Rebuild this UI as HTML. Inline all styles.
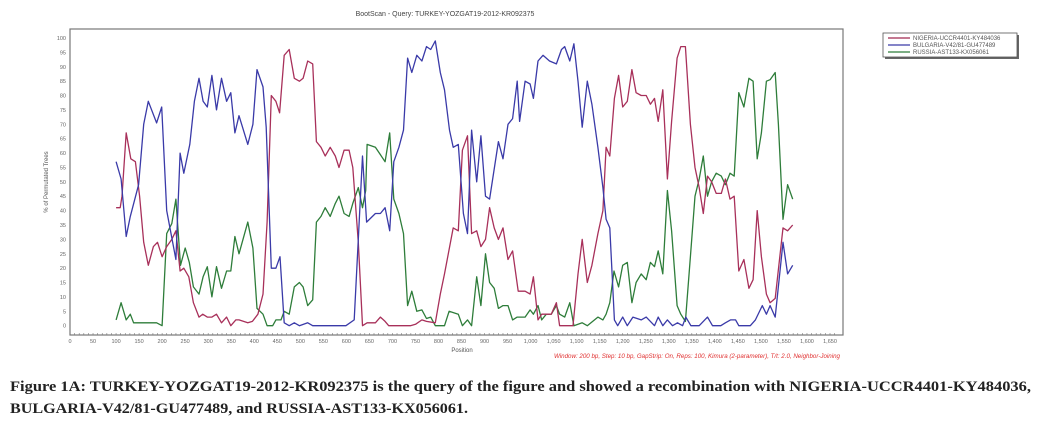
<!DOCTYPE html>
<html><head><meta charset="utf-8"><style>
html,body{margin:0;padding:0;background:#fff;}
svg{display:block;}
</style></head><body>
<svg id="chart" width="1061" height="431" viewBox="0 0 1061 431" xmlns="http://www.w3.org/2000/svg">
<text x="445" y="16" font-family="Liberation Sans, sans-serif" font-size="7" fill="#444" text-anchor="middle">BootScan - Query: TURKEY-YOZGAT19-2012-KR092375</text>
<rect x="70" y="29" width="773" height="306" fill="#fff" stroke="#777" stroke-width="1.2"/>
<g id="yticks"></g>
<g id="xticks"></g>
<text transform="translate(48,182) rotate(-90)" font-family="Liberation Sans, sans-serif" font-size="6" fill="#555" text-anchor="middle">% of Permutated Trees</text>
<text x="462" y="352" font-family="Liberation Sans, sans-serif" font-size="6" fill="#555" text-anchor="middle">Position</text>
<g id="series"></g>
<g>
<rect x="885" y="35" width="134" height="24" fill="#666"/>
<rect x="883" y="33" width="134" height="24" fill="#fff" stroke="#555" stroke-width="0.8"/>
<line x1="888" y1="38" x2="910" y2="38" stroke="#a0284f" stroke-width="1.2"/>
<text x="913" y="40" font-family="Liberation Sans, sans-serif" font-size="6" fill="#555">NIGERIA-UCCR4401-KY484036</text>
<line x1="888" y1="45" x2="910" y2="45" stroke="#3a3aa8" stroke-width="1.2"/>
<text x="913" y="47" font-family="Liberation Sans, sans-serif" font-size="6" fill="#555">BULGARIA-V42/81-GU477489</text>
<line x1="888" y1="52" x2="910" y2="52" stroke="#2e7d3a" stroke-width="1.2"/>
<text x="913" y="54" font-family="Liberation Sans, sans-serif" font-size="6" fill="#555">RUSSIA-AST133-KX056061</text>
</g>
<text x="840" y="358" font-family="Liberation Sans, sans-serif" font-size="6.2" font-style="italic" fill="#e03030" text-anchor="end">Window: 200 bp, Step: 10 bp, GapStrip: On, Reps: 100, Kimura (2-parameter), T/t: 2.0, Neighbor-Joining</text>
<text x="10" y="391" font-family="Liberation Serif, serif" font-size="14.5" font-weight="bold" fill="#222" textLength="1021" lengthAdjust="spacingAndGlyphs">Figure 1A: TURKEY-YOZGAT19-2012-KR092375 is the query of the figure and showed a recombination with NIGERIA-UCCR4401-KY484036,</text>
<text x="10" y="413" font-family="Liberation Serif, serif" font-size="14.5" font-weight="bold" fill="#222" textLength="458" lengthAdjust="spacingAndGlyphs">BULGARIA-V42/81-GU477489, and RUSSIA-AST133-KX056061.</text>
</svg>
<script>
const xTicks = [0,50,100,150,200,250,300,350,400,450,500,550,600,650,700,750,800,850,900,950,1000,1050,1100,1150,1200,1250,1300,1350,1400,1450,1500,1550,1600,1650];
const yTicks = [0,5,10,15,20,25,30,35,40,45,50,55,60,65,70,75,80,85,90,95,100];
const seriesNames = ["NIGERIA-UCCR4401-KY484036","BULGARIA-V42/81-GU477489","RUSSIA-AST133-KX056061"];
const redPos = [100,109,113,122,132,142,151,160,170,181,190,200,210,221,230,239,247,258,268,280,288,298,308,318,329,340,349,360,367,386,396,408,419,428,437,447,455,465,476,487,498,506,516,527,535,545,554,565,576,584,595,606,614,626,635,645,663,674,684,692,739,750,764,774,793,804,813,832,843,852,863,872,883,892,902,911,921,930,940,951,961,973,988,999,1006,1016,1024,1034,1045,1056,1063,1081,1092,1103,1112,1123,1133,1146,1157,1164,1172,1182,1191,1200,1210,1220,1229,1240,1251,1260,1269,1277,1287,1297,1306,1318,1326,1336,1347,1357,1366,1375,1384,1393,1403,1414,1423,1433,1442,1452,1463,1474,1483,1492,1501,1512,1520,1531,1548,1558,1569];
const redVal = [41,41,45,67,58,57,45,29,21,27.5,29,24,27.5,30,33,19,20,17,8,3,4,3,3,4,1,3,0,2,2,1,1.5,4,11,36,80,78,74,94,96,86,85,86,92,91,64,62,59,62,59,55,61,61,55,29,0,1,1,3,1.5,0,0,0.5,2,1.5,1,11,18,34,33,61,66,32,33,27.5,30,41,34,30,34,23,26,12,12,11,17,2,4,4,4,8,0,0,0,18,30,15,21,32,40,62,59,79,87,76,78,89,81,80,80,77,79,71,82,51,71,93,97,97,70,55,48,39,52,50,46,46,51,44,45,19,23,13,16,40,24,11,8,9.5,34,33,35];
const bluePos = [100,111,122,131,149,160,170,188,199,210,230,239,247,260,270,280,289,298,308,318,329,340,349,358,367,386,397,406,419,426,437,447,456,465,476,487,498,516,527,599,617,626,635,644,663,674,684,694,703,714,724,733,742,753,764,774,783,793,804,813,824,832,843,854,863,872,883,892,902,911,930,940,951,961,971,976,988,999,1006,1016,1027,1041,1056,1067,1074,1085,1094,1103,1112,1123,1133,1146,1157,1164,1172,1182,1189,1200,1210,1222,1240,1251,1269,1277,1287,1297,1308,1319,1330,1337,1348,1366,1384,1395,1413,1423,1434,1445,1452,1477,1488,1503,1512,1520,1531,1548,1558,1569];
const blueVal = [57,51,31,38,49,70,78,70.5,76,40,23,60,53,63,78,86,78,76,87,75,86,78,81,67,73,63,70,89,83,69,20,20,24,1,0,1,0,1,0,0,2,30,59,36,39,39,41,33,57,62,68,93,88,94,92,97,96,99,88,82,68,62,63,39,32,68,50,66,45,44,64,58,70,72,85,71,85,84,79,92,94,92,91,96,97,92,98,85,69,85,77,62,48,37,34,2,0,3,0,3,2,3,0,3,0,2,0,1,0,3,0,0,3,0,0,1,2,2,0,0,2,7,4,7,3,29,18,21];
const greenPos = [100,111,122,131,138,188,200,210,221,230,240,250,259,268,280,289,298,308,318,329,340,349,358,367,386,397,406,419,428,440,447,458,465,476,487,498,506,516,527,535,545,554,565,576,584,595,606,614,626,635,642,645,663,684,694,703,714,724,733,742,753,764,774,783,793,813,823,843,852,863,872,883,892,902,911,921,930,940,951,961,971,988,999,1006,1016,1024,1034,1045,1056,1063,1074,1085,1094,1112,1123,1146,1157,1164,1172,1181,1191,1200,1210,1220,1229,1240,1251,1260,1269,1277,1287,1297,1306,1318,1326,1336,1347,1357,1366,1375,1384,1393,1403,1414,1423,1433,1442,1452,1463,1474,1483,1492,1501,1512,1520,1531,1538,1548,1558,1569];
const greenVal = [2,8,2,4,1,1,0,32,35.5,44,21,27,22,13.5,11,17,20.5,10,20.5,13,19,19,31,25,36,27,6,4,0,0,2,2,5,4,13.5,15,13.5,7,9,36,38,41,38,42.5,45,39,38,42.5,48,41,47,63,62,57,67,44,39,32,7,12,5,5.5,2.5,3,0,0,5,4,0,2,0,17,7,25,15,13,6,7,7,2,3,3,5.5,4,7,2,4,4,7,4,3,8,0,1,0,3,2,4,8,19,13.5,21,22,8,15,18,16,22,20.5,26,18,47,33,7,4,1.5,24,45,51,59,45,50,53,52,49,53,52,81,76,86,85,58,67,85,85.5,88,70,37,49,44];

const X0 = 70, XS = (830 - 70) / 1650;
const Y0 = 325.7, YS = (325.7 - 38) / 100;
function xScale(v){ return X0 + v * XS; }
function yScale(v){ return Y0 - v * YS; }
const NS = "http://www.w3.org/2000/svg";
const yg = document.getElementById('yticks');
yTicks.forEach(function(t){
  const tx = document.createElementNS(NS,'text');
  tx.setAttribute('x', 66);
  tx.setAttribute('y', yScale(t) + 2);
  tx.setAttribute('font-family','Liberation Sans, sans-serif');
  tx.setAttribute('font-size','5.5');
  tx.setAttribute('fill','#666');
  tx.setAttribute('text-anchor','end');
  tx.textContent = t;
  
  
  yg.appendChild(tx);
});
const xg = document.getElementById('xticks');
xTicks.forEach(function(t){
  const tx = document.createElementNS(NS,'text');
  tx.setAttribute('x', xScale(t));
  tx.setAttribute('y', 343);
  tx.setAttribute('font-family','Liberation Sans, sans-serif');
  tx.setAttribute('font-size','5.5');
  tx.setAttribute('fill','#666');
  tx.setAttribute('text-anchor','middle');
  tx.textContent = t >= 1000 ? (Math.floor(t/1000) + ',' + String(t%1000).padStart(3,'0')) : t;
  
  
  xg.appendChild(tx);
});
for (let t = 0; t <= 1660; t += 10) {
  const ln = document.createElementNS(NS,'line');
  ln.setAttribute('x1', xScale(t)); ln.setAttribute('x2', xScale(t));
  ln.setAttribute('y1', 335); ln.setAttribute('y2', 333);
  ln.setAttribute('stroke','#777'); ln.setAttribute('stroke-width','0.6');
  
  
  xg.appendChild(ln);
}
const sg = document.getElementById('series');
function drawLine(pos, vals, color, name){
  const p = document.createElementNS(NS,'polyline');
  p.setAttribute('points', pos.map(function(x,i){ return xScale(x).toFixed(1) + ',' + yScale(vals[i]).toFixed(1); }).join(' '));
  p.setAttribute('fill','none');
  p.setAttribute('stroke', color);
  p.setAttribute('stroke-width','1.3');
  p.setAttribute('stroke-linejoin','round');
  
  
  sg.appendChild(p);
}
drawLine(greenPos, greenVal, '#2e7d3a', 'russia-line');
drawLine(redPos, redVal, '#a8305a', 'nigeria-line');
drawLine(bluePos, blueVal, '#3a3aa8', 'bulgaria-line');
</script>
</body></html>
